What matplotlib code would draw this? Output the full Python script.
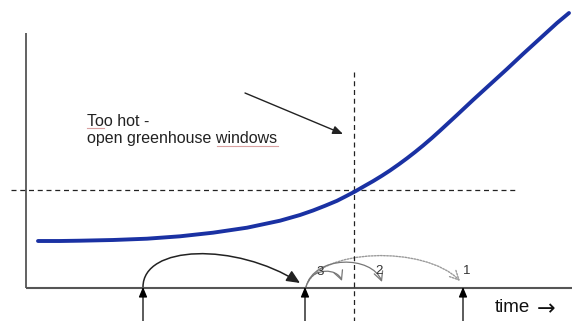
import matplotlib
matplotlib.use("Agg")
import matplotlib.pyplot as plt
from matplotlib.path import Path
from matplotlib.patches import FancyArrowPatch

# Data (in the chart's own coordinate units; y grows downward)
curve_x = [38, 60, 80, 113, 147, 180, 213, 247, 280, 300, 313, 325, 337, 346, 355,
           364, 373, 382, 390, 399, 407, 415, 423, 432, 440, 457, 473, 490, 507, 523, 540, 557, 569]
curve_y = [241, 241, 240.7, 240, 238.7, 236.3, 232.7, 227.7, 220.7, 215, 210.5, 205.8, 200.8, 196.2, 191.5,
           186.3, 181.2, 175.7, 170.5, 164.2, 158.3, 152.1, 145.6, 137.9, 130.7, 115, 100, 84.5, 69, 54, 38.5, 23, 13]
threshold_y = 190
threshold_x = [11, 515]
cross_x = 354
cross_y = [72, 321]
event_x = [143, 305, 463]
axis_y = 288
axis_x0 = 26
axis_x1 = 572
axis_top = 33
label_text = ["Too hot -", "open greenhouse windows"]
arc_labels = ["3", "2", "1"]

fig = plt.figure(figsize=(5.75, 3.21), dpi=100)
ax = fig.add_axes([0, 0, 1, 1])
ax.set_xlim(0, 575)
ax.set_ylim(321, 0)
ax.axis("off")

fam = ["Liberation Sans", "DejaVu Sans"]

# axes lines
ax.plot([axis_x0, axis_x0], [axis_top, axis_y], color="#555555", lw=1.3, solid_capstyle="butt")
ax.plot([axis_x0, axis_x1], [axis_y, axis_y], color="#555555", lw=1.5, solid_capstyle="butt")

# dashed guides
ax.plot(threshold_x, [threshold_y, threshold_y], color="#222222", lw=0.9, ls=(0, (4, 3)))
ax.plot([cross_x, cross_x], cross_y, color="#222222", lw=0.9, ls=(0, (4, 3)))

# curve
ax.plot(curve_x, curve_y, color="#1a31a3", lw=2.8, solid_capstyle="round", solid_joinstyle="round")

# event up arrows
for ex in event_x:
    ax.annotate("", xy=(ex, axis_y - 1), xytext=(ex, 321),
                arrowprops=dict(arrowstyle="-|>,head_length=0.6,head_width=0.25", color="black", lw=0.9,
                                shrinkA=0, shrinkB=0))

def bez(p0, c1, c2, p1, color, ls, head, lw=1.0):
    path = Path([p0, c1, c2, p1], [Path.MOVETO, Path.CURVE4, Path.CURVE4, Path.CURVE4])
    arr = FancyArrowPatch(path=path, arrowstyle=head, color=color, lw=lw, linestyle=ls,
                          mutation_scale=8)
    ax.add_patch(arr)

# black arc
bez((143, 287), (143, 245), (235, 242), (300, 283), "#222222", "-", "-|>,head_length=1.0,head_width=0.45", lw=1.1)
# gray arcs
bez((306, 287), (318, 248), (425, 245), (460, 281), "#9a9a9a", (0, (1.2, 1.0)), "->,head_length=0.8,head_width=0.4", lw=1.0)
bez((306, 287), (314, 255), (372, 255), (382, 282), "#777777", "-", "->,head_length=0.8,head_width=0.4", lw=0.9)
bez((308, 282), (314, 268), (337, 268), (342, 281), "#777777", "-", "->,head_length=0.8,head_width=0.4", lw=0.9)

ax.text(320, 272, arc_labels[0], fontsize=9.5, family=fam, color="#333333", ha="center", va="center")
ax.text(379, 271, arc_labels[1], fontsize=9.5, family=fam, color="#333333", ha="center", va="center")
ax.text(467, 271, arc_labels[2], fontsize=9.5, family=fam, color="#333333", ha="center", va="center")

# annotation
ax.text(87, 122, label_text[0], fontsize=11.5, family=fam, color="#222222", ha="left", va="center")
ax.text(87, 139, label_text[1], fontsize=11.5, family=fam, color="#222222", ha="left", va="center")
ax.plot([87, 104], [128, 128], color="#d9a0a0", lw=0.8)
ax.plot([217, 278], [146, 146], color="#d9a0a0", lw=0.8)
ax.annotate("", xy=(343, 134), xytext=(245, 93),
            arrowprops=dict(arrowstyle="-|>,head_length=0.6,head_width=0.25", color="#222222", lw=1.0,
                            shrinkA=0, shrinkB=0))

ax.text(495, 308, "time", fontsize=13.5, family=fam, color="#111111", ha="left", va="center")
ax.text(537, 309, "→", fontsize=16, family=["DejaVu Sans"], color="#111111", ha="left", va="center")

fig.savefig("out.png", dpi=100)
